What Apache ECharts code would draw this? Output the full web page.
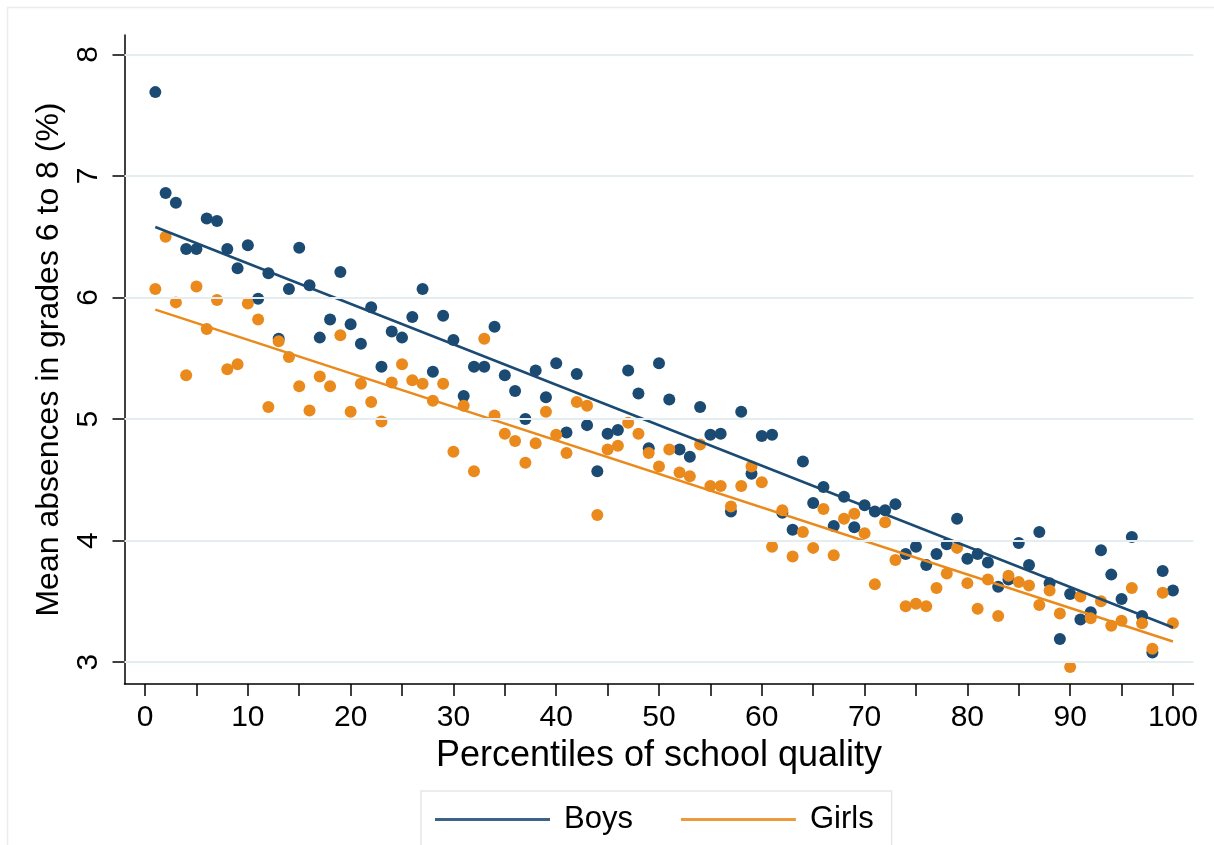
<!DOCTYPE html>
<html>
<head>
<meta charset="utf-8">
<script src="https://cdn.jsdelivr.net/npm/echarts@6/dist/echarts.min.js"></script>
<style>
html,body{margin:0;padding:0;background:#fff;}
#chart{width:1214px;height:845px;}
</style>
</head>
<body>
<div id="chart"></div>
<script>
const percentiles = [1,2,3,4,5,6,7,8,9,10,11,12,13,14,15,16,17,18,19,20,21,22,23,24,25,26,27,28,29,30,31,32,33,34,35,36,37,38,39,40,41,42,43,44,45,46,47,48,49,50,51,52,53,54,55,56,57,58,59,60,61,62,63,64,65,66,67,68,69,70,71,72,73,74,75,76,77,78,79,80,81,82,83,84,85,86,87,88,89,90,91,92,93,94,95,96,97,98,99,100];
const boys = [7.69,6.86,6.78,6.40,6.40,6.65,6.63,6.40,6.24,6.43,5.99,6.20,5.66,6.07,6.41,6.10,5.67,5.82,6.21,5.78,5.62,5.92,5.43,5.72,5.67,5.84,6.07,5.39,5.85,5.65,5.19,5.43,5.43,5.76,5.36,5.23,5.00,5.40,5.18,5.46,4.89,5.37,4.95,4.57,4.88,4.91,5.40,5.21,4.76,5.46,5.16,4.75,4.69,5.10,4.87,4.88,4.24,5.06,4.55,4.86,4.87,4.23,4.09,4.65,4.31,4.44,4.12,4.36,4.11,4.29,4.24,4.25,4.30,3.89,3.95,3.80,3.89,3.97,4.18,3.85,3.89,3.82,3.62,3.68,3.98,3.80,4.07,3.65,3.19,3.56,3.35,3.41,3.92,3.72,3.52,4.03,3.38,3.08,3.75,3.59];
const girls = [6.07,6.50,5.96,5.36,6.09,5.74,5.98,5.41,5.45,5.95,5.82,5.10,5.64,5.51,5.27,5.07,5.35,5.27,5.69,5.06,5.29,5.14,4.98,5.30,5.45,5.32,5.29,5.15,5.29,4.73,5.11,4.57,5.66,5.03,4.88,4.82,4.64,4.80,5.06,4.87,4.72,5.14,5.11,4.21,4.75,4.78,4.97,4.88,4.72,4.61,4.75,4.56,4.53,4.79,4.45,4.45,4.28,4.45,4.61,4.48,3.95,4.25,3.87,4.07,3.94,4.26,3.88,4.18,4.22,4.06,3.64,4.15,3.84,3.46,3.48,3.46,3.61,3.73,3.94,3.65,3.44,3.68,3.38,3.71,3.66,3.63,3.47,3.59,3.40,2.96,3.54,3.36,3.50,3.30,3.34,3.61,3.32,3.11,3.57,3.32];
const boysFit = [[1, 6.58], [100, 3.285]];
const girlsFit = [[1, 5.90], [100, 3.17]];
const xTicks = [0,5,10,15,20,25,30,35,40,45,50,55,60,65,70,75,80,85,90,95,100];
const xLabels = [0,10,20,30,40,50,60,70,80,90,100];
const yTicks = [3,4,5,6,7,8];
const seriesNames = ['Boys', 'Girls'];
const xTitle = 'Percentiles of school quality';
const yTitle = 'Mean absences in grades 6 to 8 (%)';

const BLUE = '#1b4a72';
const ORANGE = '#ea8a1c';
const FONT = '"Liberation Sans", Arial, Helvetica, sans-serif';

const chart = echarts.init(document.getElementById('chart'), null, {renderer: 'canvas'});
const pts = arr => percentiles.map((p, i) => [p, arr[i]]);

chart.setOption({
  backgroundColor: '#ffffff',
  animation: false,
  textStyle: {fontFamily: FONT},
  graphic: [{
    type: 'rect', left: 5, top: 5, silent: true,
    shape: {width: 1220, height: 860},
    style: {fill: 'none', stroke: '#ececec', lineWidth: 1.5}
  }],
  grid: {left: 124.5, top: 35, width: 1069, height: 649, containLabel: false},
  xAxis: {
    type: 'value', min: -2, max: 102,
    name: xTitle, nameLocation: 'middle', nameGap: 50,
    nameTextStyle: {fontSize: 36, color: '#000', fontFamily: FONT},
    axisLine: {show: true, onZero: false, lineStyle: {color: '#000', width: 1.5}},
    axisTick: {show: true, length: 12, customValues: xTicks, lineStyle: {color: '#000', width: 1.5}},
    axisLabel: {customValues: xLabels, fontSize: 30, color: '#000', margin: 19, fontFamily: FONT},
    splitLine: {show: false}
  },
  yAxis: {
    type: 'value', min: 2.82, max: 8.16,
    name: yTitle, nameLocation: 'middle', nameGap: 44, nameRotate: 90,
    nameTextStyle: {fontSize: 32, color: '#000', fontFamily: FONT},
    axisLine: {show: true, onZero: false, lineStyle: {color: '#000', width: 1.5}},
    axisTick: {show: true, length: 12, customValues: yTicks, lineStyle: {color: '#000', width: 1.5}},
    axisLabel: {customValues: yTicks, rotate: 90, fontSize: 30, color: '#000', margin: 21, fontFamily: FONT},
    splitLine: {show: false}
  },
  legend: {
    data: seriesNames,
    left: 421, top: 791,
    orient: 'horizontal',
    icon: 'rect',
    itemWidth: 115, itemHeight: 3, itemGap: 48,
    padding: [13, 18, 30, 14],
    borderColor: '#e6e6e6', borderWidth: 1.5,
    textStyle: {fontSize: 31, color: '#000', fontFamily: FONT, padding: [0, 0, 0, 9]},
    selectedMode: false
  },
  series: [
    {
      type: 'line', name: 'grid', data: [], silent: true, z: 1,
      markLine: {
        silent: true, symbol: 'none', label: {show: false},
        lineStyle: {color: '#e4eef0', width: 2, type: 'solid'},
        data: yTicks.map(v => ({yAxis: v}))
      }
    },
    {
      type: 'scatter', name: 'Boys points', data: pts(boys), symbol: 'circle', symbolSize: 12,
      itemStyle: {color: BLUE, opacity: 1}, z: 3
    },
    {
      type: 'scatter', name: 'Girls points', data: pts(girls), symbol: 'circle', symbolSize: 12,
      itemStyle: {color: ORANGE, opacity: 1}, z: 3
    },
    {
      type: 'line', name: seriesNames[0], data: boysFit, symbol: 'none', showSymbol: false,
      lineStyle: {color: BLUE, width: 2.5}, itemStyle: {color: '#3d6287'}, z: 4
    },
    {
      type: 'line', name: seriesNames[1], data: girlsFit, symbol: 'none', showSymbol: false,
      lineStyle: {color: ORANGE, width: 2.5}, itemStyle: {color: '#ee9a3a'}, z: 4
    }
  ]
});
</script>
</body>
</html>
